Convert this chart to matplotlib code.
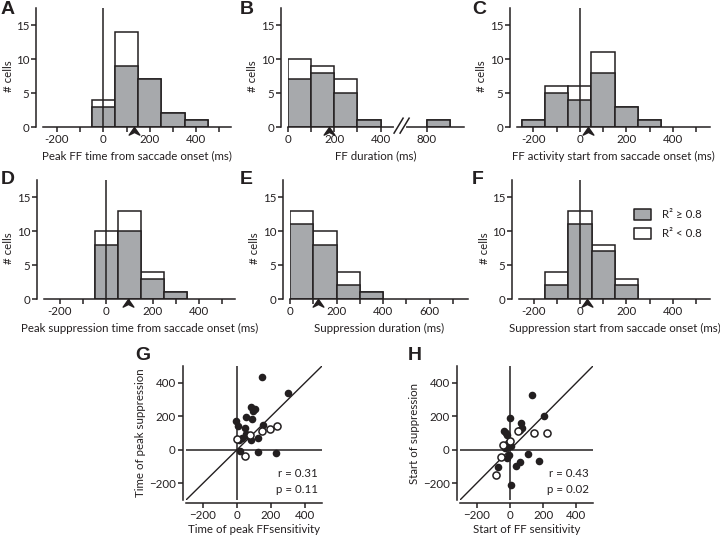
import matplotlib
matplotlib.use('Agg')
import matplotlib.pyplot as plt
from matplotlib.path import Path
from matplotlib.transforms import blended_transform_factory

plt.rcParams['font.family'] = ['Lato', 'DejaVu Sans']
plt.rcParams['font.size'] = 8.3

INK = '#231f20'
GRAY = '#a7a9ac'
W, H = 720, 538

# histograms: bin centres (ms), all cells, cells with R^2 >= 0.8, median (ms)
peakff_bins = [0, 100, 200, 300, 400]
peakff_all = [4, 14, 7, 2, 1]
peakff_good = [3, 9, 7, 2, 1]
peakff_median = 130

ffdur_bins = [50, 150, 250, 350, 850]
ffdur_all = [10, 9, 7, 1, 1]
ffdur_good = [7, 8, 5, 1, 1]
ffdur_median = 175

ffstart_bins = [-200, -100, 0, 100, 200, 300]
ffstart_all = [1, 6, 6, 11, 3, 1]
ffstart_good = [1, 5, 4, 8, 3, 1]
ffstart_median = 35

peaksup_bins = [0, 100, 200, 300]
peaksup_all = [10, 13, 4, 1]
peaksup_good = [8, 10, 3, 1]
peaksup_median = 95

supdur_bins = [50, 150, 250, 350]
supdur_all = [13, 10, 4, 1]
supdur_good = [11, 8, 2, 1]
supdur_median = 120

supstart_bins = [-100, 0, 100, 200]
supstart_all = [4, 13, 8, 3]
supstart_good = [2, 11, 7, 2]
supstart_median = 30

# scatter G: time of peak FF sensitivity vs time of peak suppression
g_good_x = [149, 300, 84, 104, 94, 55, 90, -8, 6, 153, 49, 55, 31, 12, 84, 124, 16, 124, 227, 65]
g_good_y = [433, 340, 258, 241, 231, 196, 186, 171, 144, 150, 130, 97, 68, 56, 56, 72, -6, -14, -21, 80]
g_poor_x = [0, 45, 78, 149, 192, 237]
g_poor_y = [66, -38, 87, 113, 126, 140]

# scatter H: start of FF sensitivity vs start of suppression
h_good_x = [134, 206, 0, 64, 70, -36, -24, -16, 60, -10, 4, -4, -16, 60, 34, 110, 176, -74, 4, -30]
h_good_y = [329, 201, 189, 158, 132, 112, 102, 87, 116, 41, 24, -30, -47, -71, -95, -26, -67, -100, -209, 10]
h_poor_x = [46, 146, 224, 0, -44, -56, -84]
h_poor_y = [112, 100, 100, 55, 30, -41, -152]

fig = plt.figure(figsize=(W / 100, H / 100), dpi=100)

ARROW = Path([(0, 0), (-0.7, -1), (0, -0.65), (0.7, -1), (0, 0)],
             [Path.MOVETO, Path.LINETO, Path.LINETO, Path.LINETO, Path.CLOSEPOLY])


def px_axes(left, top, right, bottom):
    return fig.add_axes([left / W, 1 - bottom / H, (right - left) / W, (bottom - top) / H])


def letter(x, y, s):
    fig.text(x / W, 1 - y / H, s, fontsize=14, fontweight='bold',
             family='Liberation Sans', ha='center', va='center', color=INK)


def hist_panel(rect, xlim, bins, n_all, n_good, median, ticks, labels, xlabel,
               zero_line=True, xmap=lambda v: v):
    ax = px_axes(*rect)
    pos = [xmap(b) for b in bins]
    ax.bar(pos, n_all, width=100, color='white', edgecolor=INK, linewidth=1.1, zorder=2)
    ax.bar(pos, n_good, width=100, color=GRAY, edgecolor=INK, linewidth=1.1, zorder=2)
    if zero_line:
        ax.axvline(0, color=INK, lw=1.1, zorder=3)
    ax.plot(xmap(median), 0, marker=ARROW, markersize=11, color=INK,
            clip_on=False, zorder=5, ls='none')
    ax.set_xlim(*xlim)
    ax.set_ylim(0, 17.5)
    ax.set_yticks([0, 5, 10, 15])
    ax.set_xticks(ticks)
    ax.set_xticklabels(labels)
    for s in ('top', 'right'):
        ax.spines[s].set_visible(False)
    ax.spines['left'].set_position(('outward', 5))
    for s in ('left', 'bottom'):
        ax.spines[s].set_linewidth(1.1)
        ax.spines[s].set_color(INK)
    ax.tick_params(length=3.5, width=1.1, color=INK, pad=1.5, labelcolor=INK)
    ax.set_xlabel(xlabel, labelpad=4, color=INK)
    spine_px = rect[0] - 7
    tr = blended_transform_factory(fig.transFigure, ax.transData)
    ax.text((spine_px - 28) / W, 7.5, '# cells', transform=tr, rotation=90,
            ha='center', va='center', color=INK)
    return ax


sym_ticks = [-200, -100, 0, 100, 200, 300, 400, 500]
sym_labels = ['-200', '', '0', '', '200', '', '400', '']

hist_panel((43, 8, 231, 127), (-260, 550), peakff_bins, peakff_all, peakff_good,
           peakff_median, sym_ticks, sym_labels, 'Peak FF time from saccade onset (ms)')


def broken(v):
    return v if v < 500 else v - 200


axb = hist_panel((288, 8, 464, 127), (0, 760), ffdur_bins, ffdur_all, ffdur_good,
                 ffdur_median, [0, 100, 200, 300, 400, 600],
                 ['0', '', '200', '', '400', '800'], 'FF duration (ms)',
                 zero_line=False, xmap=broken)
axb.plot([468, 500], [0, 0], color='white', lw=3, clip_on=False, zorder=4)
for x0 in (458, 484):
    axb.plot([x0, x0 + 39], [-0.9, 1.3], color=INK, lw=1.1, clip_on=False, zorder=5)

hist_panel((517, 8, 710, 127), (-270, 560), ffstart_bins, ffstart_all, ffstart_good,
           ffstart_median, sym_ticks, sym_labels, 'FF activity start from saccade onset (ms)')

hist_panel((44, 180, 235, 299), (-268, 555), peaksup_bins, peaksup_all, peaksup_good,
           peaksup_median, sym_ticks, sym_labels, 'Peak suppression time from saccade onset (ms)')

hist_panel((290, 180, 468, 299), (0, 765), supdur_bins, supdur_all, supdur_good,
           supdur_median, [0, 100, 200, 300, 400, 500, 600, 700],
           ['0', '', '200', '', '400', '', '600', ''], 'Suppression duration (ms)',
           zero_line=False)

axf = hist_panel((519, 180, 710, 299), (-263, 560), supstart_bins, supstart_all, supstart_good,
                 supstart_median, sym_ticks, sym_labels, 'Suppression start from saccade onset (ms)')

# legend drawn inside panel F
lx = [233, 306]
axf.fill_between(lx, 11.6, 13.2, facecolor=GRAY, edgecolor=INK, lw=1.1, zorder=4)
axf.fill_between(lx, 8.8, 10.4, facecolor='white', edgecolor=INK, lw=1.1, zorder=4)
axf.text(355, 12.4, 'R² ≥ 0.8', va='center', ha='left', color=INK)
axf.text(355, 9.6, 'R² < 0.8', va='center', ha='left', color=INK)


def scatter_panel(rect, gx, gy, px, py, stats, xlabel, ylabel):
    ax = px_axes(*rect)
    ax.set_xlim(-300, 500)
    ax.set_ylim(-300, 500)
    ax.axhline(0, color=INK, lw=1.1, zorder=1)
    ax.axvline(0, color=INK, lw=1.1, zorder=1)
    ax.axline((0, 0), slope=1, color=INK, lw=1.0, zorder=1)
    ax.scatter(gx, gy, s=30, color=INK, lw=0, zorder=3)
    ax.scatter(px, py, s=26, facecolor='white', edgecolor=INK, lw=1.1, zorder=3)
    ax.set_xticks([-200, 0, 200, 400])
    ax.set_yticks([-200, 0, 200, 400])
    for s in ('top', 'right'):
        ax.spines[s].set_visible(False)
    for s in ('left', 'bottom'):
        ax.spines[s].set_position(('outward', 2.5))
        ax.spines[s].set_linewidth(1.1)
        ax.spines[s].set_color(INK)
    ax.tick_params(length=3.5, width=1.1, color=INK, pad=1.5, labelcolor=INK)
    ax.set_xlabel(xlabel, labelpad=2, color=INK)
    ax.set_ylabel(ylabel, labelpad=2, color=INK)
    ax.text(0.97, 0.14, stats, transform=ax.transAxes, ha='right', va='center',
            linespacing=1.6, color=INK)
    return ax


scatter_panel((186, 366, 322, 500), g_good_x, g_good_y, g_poor_x, g_poor_y,
              'r = 0.31\np = 0.11', 'Time of peak FFsensitivity', 'Time of peak suppression')
scatter_panel((460, 366, 593, 500), h_good_x, h_good_y, h_poor_x, h_poor_y,
              'r = 0.43\np = 0.02', 'Start of FF sensitivity', 'Start of suppression')

for x, y, s in [(8, 10, 'A'), (247, 10, 'B'), (479, 10, 'C'),
                (8, 179, 'D'), (246, 179, 'E'), (478, 179, 'F'),
                (143, 355, 'G'), (415, 355, 'H')]:
    letter(x, y, s)

fig.savefig('out.png', dpi=100)
